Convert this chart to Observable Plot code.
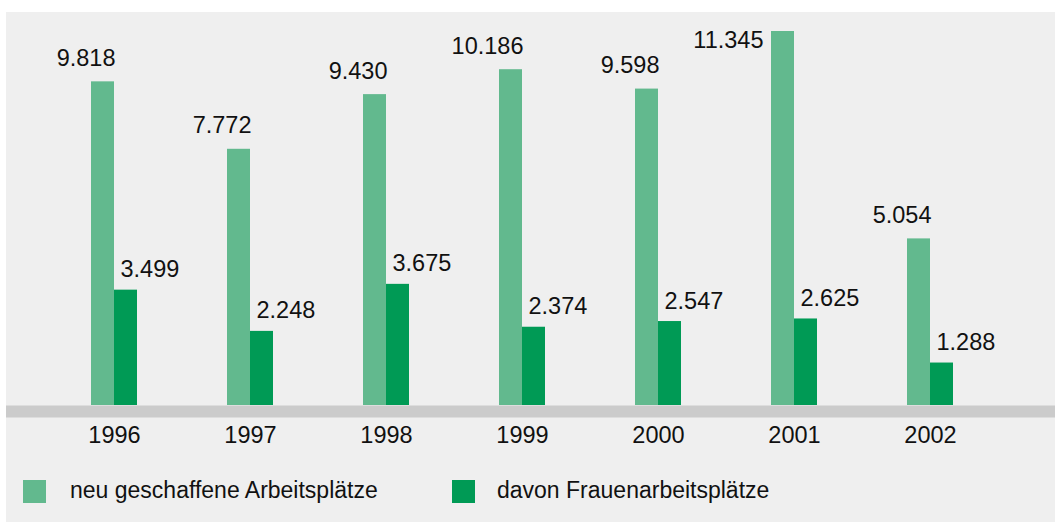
<!DOCTYPE html>
<html>
<head>
<meta charset="utf-8">
<script src="https://cdn.jsdelivr.net/npm/d3@7"></script>
<script src="https://cdn.jsdelivr.net/npm/@observablehq/plot@0.6"></script>
<style>
  html, body { margin: 0; padding: 0; background: #ffffff; }
  #panel {
    position: absolute; left: 6px; top: 12px; width: 1049px; height: 510px;
    background: #efefef; font-family: "Liberation Sans", Arial, Helvetica, sans-serif; color: #111;
  }
  #legend { position: relative; height: 62px; }
  .sw { position: absolute; top: 20px; width: 23px; height: 23px; }
  .lt { position: absolute; top: 17px; font-size: 23px; line-height: 27px; white-space: nowrap; }
  svg { display: block; }
</style>
</head>
<body>
<div id="panel"><div id="chart"></div><div id="legend"></div></div>
<script>
const years = ["1996", "1997", "1998", "1999", "2000", "2001", "2002"];
const neuValues = [9818, 7772, 9430, 10186, 9598, 11345, 5054];
const frauenValues = [3499, 2248, 3675, 2374, 2547, 2625, 1288];
const seriesNames = ["neu geschaffene Arbeitsplätze", "davon Frauenarbeitsplätze"];
const colors = ["#62b98e", "#009a55"];

const neu = years.map((y, i) => ({year: y, value: neuValues[i]}));
const frauen = years.map((y, i) => ({year: y, value: frauenValues[i]}));
const maxV = d3.max(neuValues);

const fmt = d3.formatLocale({decimal: ",", thousands: ".", grouping: [3], currency: ["", " €"]}).format(",d");
const font = "Liberation Sans, Arial, Helvetica, sans-serif";
const fs = 23.5;

const chart = Plot.plot({
  width: 1049,
  height: 448,
  marginLeft: 0, marginRight: 0, marginTop: 0, marginBottom: 0,
  style: {background: "transparent", fontFamily: font, fontSize: fs + "px", color: "#111"},
  x: {domain: years, range: [40, 992], padding: 0, axis: null},
  y: {domain: [0, maxV], range: [393, 19], axis: null},
  marks: [
    Plot.barY(neu, {x: "year", y: "value", fill: colors[0], insetLeft: 45, insetRight: 68}),
    Plot.barY(frauen, {x: "year", y: "value", fill: colors[1], insetLeft: 68, insetRight: 45}),
    Plot.ruleY([0], {stroke: "#cbcbcb", strokeWidth: 12, dy: 6}),
    Plot.text(neu.filter(d => d.value < maxV), {x: "year", y: "value", text: d => fmt(d.value),
      textAnchor: "end", lineAnchor: "bottom", dx: 1, dy: -16, fontSize: fs, fill: "#111"}),
    Plot.text(neu.filter(d => d.value === maxV), {x: "year", y: "value", text: d => fmt(d.value),
      textAnchor: "end", lineAnchor: "bottom", dx: -31, dy: 16, fontSize: fs, fill: "#111"}),
    Plot.text(frauen, {x: "year", y: "value", text: d => fmt(d.value),
      textAnchor: "start", lineAnchor: "bottom", dx: 6, dy: -13, fontSize: fs, fill: "#111"}),
    Plot.text(years, {x: d => d, y: 0, text: d => d, textAnchor: "middle", lineAnchor: "bottom",
      dy: 37, fontSize: fs, fill: "#111"})
  ]
});
document.getElementById("chart").appendChild(chart);

const legend = document.getElementById("legend");
const legendPos = [[17, 64], [446, 491]];
seriesNames.forEach((name, i) => {
  const sw = document.createElement("div");
  sw.className = "sw";
  sw.style.left = legendPos[i][0] + "px";
  sw.style.background = colors[i];
  const t = document.createElement("div");
  t.className = "lt";
  t.style.left = legendPos[i][1] + "px";
  t.textContent = name;
  legend.appendChild(sw);
  legend.appendChild(t);
});
</script>
</body>
</html>
